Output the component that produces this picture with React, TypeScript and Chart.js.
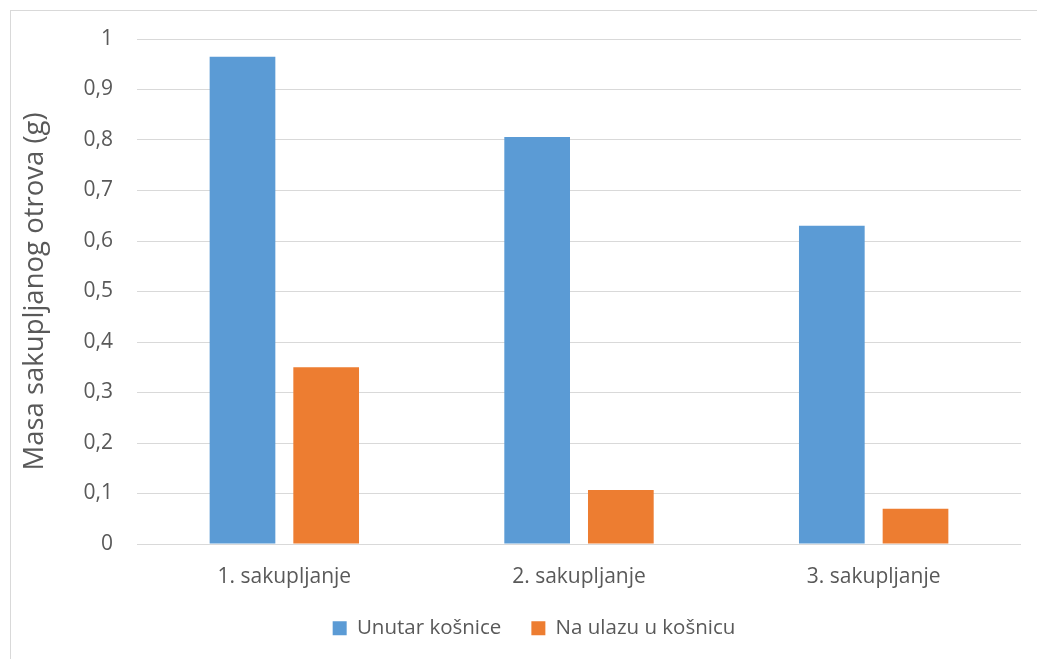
import React, { useEffect, useRef } from "react";
import { Chart, registerables } from "chart.js";

Chart.register(...registerables);

const categories = ["1. sakupljanje", "2. sakupljanje", "3. sakupljanje"];
const seriesNames = ["Unutar košnice", "Na ulazu u košnicu"];
const insideValues = [0.965, 0.806, 0.63];
const entranceValues = [0.35, 0.107, 0.07];
const yAxisTitle = "Masa sakupljanog otrova (g)";
const yMin = 0;
const yMax = 1;
const yStep = 0.1;

const FONT = "'Open Sans', 'Liberation Sans', sans-serif";
const TEXT = "#595959";
const GRID = "#d9d9d9";

const PAD_LEFT = 47;

function formatTick(v: number): string {
  const r = Math.round(v * 10) / 10;
  return String(r).replace(".", ",");
}

export default function App() {
  const ref = useRef<HTMLCanvasElement>(null);

  useEffect(() => {
    if (!ref.current) return;
    const chart = new Chart(ref.current, {
      type: "bar",
      data: {
        labels: categories,
        datasets: [
          {
            label: seriesNames[0],
            data: insideValues,
            backgroundColor: "#5B9BD5",
            borderWidth: 0,
          },
          {
            label: seriesNames[1],
            data: entranceValues,
            backgroundColor: "#ED7D31",
            borderWidth: 0,
          },
        ],
      },
      options: {
        animation: false,
        responsive: false,
        devicePixelRatio: 1,
        categoryPercentage: 0.568,
        barPercentage: 0.785,
        layout: { padding: { top: 39, right: 16, left: PAD_LEFT, bottom: 10.5 } },
        plugins: {
          tooltip: { enabled: false },
          legend: {
            position: "bottom",
            labels: {
              boxWidth: 14,
              boxHeight: 14,
              padding: 30,
              color: TEXT,
              font: { family: FONT, size: 20.5 },
            },
          },
        },
        scales: {
          x: {
            grid: { display: false, drawTicks: false },
            border: { display: false },
            ticks: {
              color: TEXT,
              padding: 20,
              font: { family: FONT, size: 21 },
            },
            afterFit: (scale: any) => {
              scale.height = 44;
            },
          },
          y: {
            min: yMin,
            max: yMax,
            grid: { color: GRID, lineWidth: 1, drawTicks: false },
            border: { display: false },
            ticks: {
              stepSize: yStep,
              color: TEXT,
              padding: 24,
              font: { family: FONT, size: 21 },
              callback: (v: any) => formatTick(Number(v)),
            },
            title: {
              display: true,
              text: yAxisTitle,
              color: TEXT,
              padding: { top: -28.5, bottom: 0 },
              font: { family: FONT, size: 27.5 },
            },
            afterFit: (scale: any) => {
              scale.width = 137 - PAD_LEFT;
            },
          },
        },
      },
    });
    return () => chart.destroy();
  }, []);

  return (
    <>
      <div
        style={{
          position: "fixed",
          left: 10,
          top: 10,
          width: 1100,
          height: 700,
          border: `1px solid ${GRID}`,
          boxSizing: "border-box",
          pointerEvents: "none",
          background: "#fff",
        }}
      />
      <div style={{ position: "fixed", left: 0, top: 0, width: 1037, height: 659 }}>
        <canvas ref={ref} width={1037} height={659} style={{ width: 1037, height: 659 }} />
      </div>
    </>
  );
}
